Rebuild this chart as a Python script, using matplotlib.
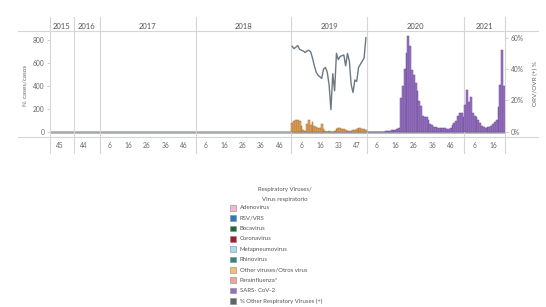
import numpy as np
import matplotlib
matplotlib.use('Agg')
import matplotlib.pyplot as plt
from matplotlib.lines import Line2D
from matplotlib.patches import Rectangle
from matplotlib.transforms import blended_transform_factory

plt.rcParams['font.family'] = ['Lato', 'DejaVu Sans']

W, H = 546, 307

# epi weeks present in each year pane
years = [2015, 2016, 2017, 2018, 2019, 2020, 2021]
weeks_2015 = list(range(40, 53))
weeks_2016 = list(range(39, 53))
weeks_2017 = list(range(1, 53))
weeks_2018 = list(range(1, 53))
weeks_2019 = list(range(1, 20)) + [23, 25, 26, 28, 31, 32, 33, 34, 35, 36, 37, 39, 41, 42,
                                   44, 46, 47, 48, 49, 50, 51, 52]
weeks_2020 = list(range(1, 54))
weeks_2021 = list(range(1, 23))

# Other viruses/Otros virus, cases per week (2019)
other_2019 = [75, 92, 100, 105, 95, 50, 10, 5, 65, 100, 60, 85, 50, 40, 35, 35, 70, 20, 5, 0,
              5, 0, 0, 5, 20, 30, 30, 25, 20, 10, 5, 5, 5, 10, 15, 25, 30, 30, 25, 20, 15]
# SARS-CoV-2, cases per week
sars_2020 = [0, 0, 0, 0, 0, 0, 0, 0, 0, 0, 3, 5, 8, 10, 12, 15, 20, 35, 290, 400,
             545, 690, 835, 750, 540, 495, 420, 350, 265, 220, 140, 130, 125, 100, 70, 60, 42, 38, 30, 30,
             35, 35, 35, 25, 20, 35, 55, 75, 95, 140, 160, 165, 125]
sars_2021 = [235, 360, 255, 300, 160, 135, 125, 100, 75, 50, 36, 33, 36, 42, 50, 62, 80, 100,
             215, 410, 715, 395]
# % Other Respiratory Viruses (+), 2019
pct_2019 = [54.5, 53, 54, 55, 52.5, 52, 51.5, 50.5, 51.5, 52, 51, 47, 42, 38, 36, 35, 34, 40, 41, 38,
            30, 14, 37, 26, 50, 46, 48, 48.5, 49, 42, 50, 45, 30, 25, 33, 32, 41, 43, 45, 47, 60]

legend_labels = ['Adenovirus', 'RSV/VRS', 'Bocavirus', 'Coronavirus', 'Metapneumovirus',
                 'Rhinovirus', 'Other viruses/Otros virus', 'Parainfluenza*', 'SARS- CoV-2',
                 '% Other Respiratory Viruses (+)']
legend_colors = ['#F2B8D3', '#2C79B6', '#1C6B34', '#A31D31', '#A8DCEC',
                 '#2A8A7B', '#F3BF70', '#F4A29D', '#9670C0', '#5E646B']

year_weeks = [weeks_2015, weeks_2016, weeks_2017, weeks_2018, weeks_2019, weeks_2020, weeks_2021]
starts = np.cumsum([0] + [len(w) for w in year_weeks])
xpos = {y: np.arange(starts[i], starts[i + 1]) for i, y in enumerate(years)}
n_total = starts[-1]

fig = plt.figure(figsize=(W / 100, H / 100), dpi=100)
ax = fig.add_axes([50 / W, (H - 137) / H, 455 / W, 106 / H])
ax2 = ax.twinx()

ax.axhline(0, color='#A3A7AB', lw=1.8, zorder=1)
ax.bar(xpos[2019], other_2019, width=1.0, color='#E9A960', edgecolor='#9C6A35', linewidth=0.35, zorder=3)
ax.bar(xpos[2020], sars_2020, width=1.0, color='#9A74C4', edgecolor='#6A4C93', linewidth=0.35, zorder=3)
ax.bar(xpos[2021], sars_2021, width=1.0, color='#9A74C4', edgecolor='#6A4C93', linewidth=0.35, zorder=3)
ax2.plot(xpos[2019], pct_2019, color='#6C7880', lw=1.0)

ax.set_xlim(-0.5, n_total - 0.5)
ax.set_ylim(-48, 879)
ax2.set_ylim(-3.5, 64.3)

for a in (ax, ax2):
    for s in a.spines.values():
        s.set_visible(False)

ax.set_yticks([0, 200, 400, 600, 800])
ax.tick_params(axis='y', length=2.5, width=0.5, color='#BBBBBB', labelsize=4.8,
               labelcolor='#666666', pad=1.5)
ax2.set_yticks([0, 20, 40, 60])
ax2.set_yticklabels([f'{v}%' for v in [0, 20, 40, 60]])
ax2.tick_params(axis='y', length=2.5, width=0.5, color='#BBBBBB', labelsize=4.8,
                labelcolor='#666666', pad=1.5)

# week labels: every 10th week inside each pane
tick_pos, tick_lab = [], []
for i, y in enumerate(years):
    for k in range(5, len(year_weeks[i]), 10):
        tick_pos.append(starts[i] + k)
        tick_lab.append(str(year_weeks[i][k]))
ax.set_xticks(tick_pos)
ax.set_xticklabels(tick_lab)
ax.tick_params(axis='x', length=0, pad=3.5, labelsize=4.8, labelcolor='#666666')

trans = blended_transform_factory(ax.transData, ax.transAxes)
for b in starts:
    ax.plot([b - 0.5, b - 0.5], [-0.151, 1.132], transform=trans, clip_on=False,
            color='#D6D6D6', lw=0.8)
for i, y in enumerate(years):
    ax.text((starts[i] + starts[i + 1] - 1) / 2, 1.047, str(y), transform=trans,
            ha='center', va='center', fontsize=5.5, color='#555555')

for yy in (31, 137):
    fig.add_artist(Line2D([18 / W, 538 / W], [1 - yy / H, 1 - yy / H], transform=fig.transFigure,
                          color='#D6D6D6', lw=0.8))

fig.text(25 / W, 1 - 85 / H, 'N. cases/casos', rotation=90, ha='center', va='center',
         fontsize=4.6, color='#666666')
fig.text(535 / W, 1 - 84 / H, 'ORV/OVR (+) %', rotation=90, ha='center', va='center',
         fontsize=4.6, color='#666666')

# legend
fig.text(285 / W, 1 - 189 / H, 'Respiratory Viruses/', ha='center', va='center',
         fontsize=4.3, color='#555555')
fig.text(285 / W, 1 - 199 / H, 'Virus respiratorio', ha='center', va='center',
         fontsize=4.3, color='#555555')
for i, (lab, col) in enumerate(zip(legend_labels, legend_colors)):
    yc = 207.8 + i * 10.35
    fig.add_artist(Rectangle((230 / W, 1 - (yc + 2.8) / H), 5.6 / W, 5.6 / H,
                             transform=fig.transFigure, facecolor=col,
                             edgecolor='#8A8A8A', lw=0.4))
    fig.text(240 / W, 1 - yc / H, lab, ha='left', va='center', fontsize=4.3, color='#555555')

fig.savefig('out.png', dpi=100)
